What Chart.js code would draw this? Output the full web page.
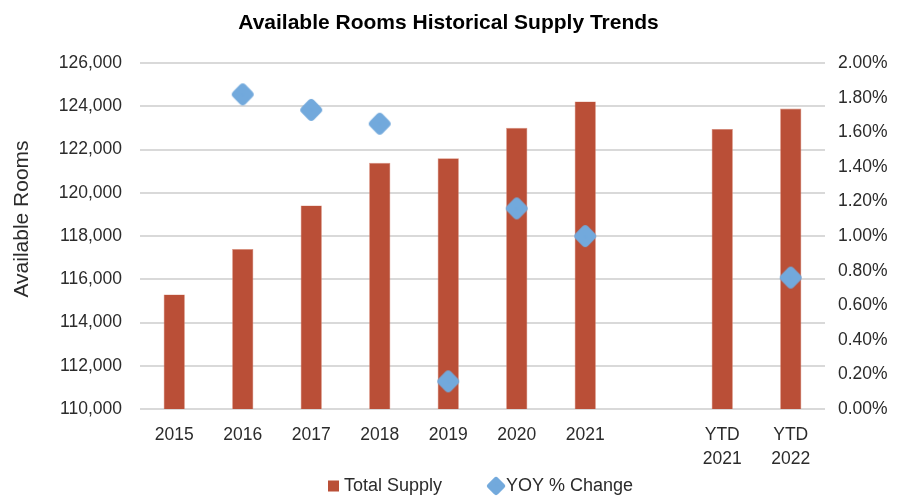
<!DOCTYPE html>
<html>
<head>
<meta charset="utf-8">
<script src="https://cdn.jsdelivr.net/npm/chart.js@4"></script>
<style>
  html, body { margin: 0; padding: 0; background: #ffffff; }
  #wrap { width: 897px; height: 496px; }
</style>
</head>
<body>
<div id="wrap"><canvas id="chart" width="897" height="496"></canvas></div>
<script>
// Categories (an empty slot separates full years from year-to-date)
const categories = ['2015', '2016', '2017', '2018', '2019', '2020', '2021', '', ['YTD', '2021'], ['YTD', '2022']];
// Total available rooms per period
const totalSupply = [115300, 117400, 119420, 121390, 121600, 123010, 124230, null, 122960, 123900];
// Year-over-year change in percent
const yoyChange = [null, 1.82, 1.73, 1.65, 0.16, 1.16, 1.00, null, null, 0.76];
// Legend entries
const seriesNames = ['Total Supply', 'YOY % Change'];
const axisTitle = 'Available Rooms';

const BAR_COLOR = '#BA4F37';
const DIAMOND_COLOR = '#72A9DC';
const TEXT_COLOR = '#2b2b2b';
const GRID_COLOR = '#D9D9D9';
const FONT = "'Liberation Sans', Arial, sans-serif";

// Rounded diamond marker drawn once onto a small canvas
function diamondImage(size, extent, stroke) {
  const c = document.createElement('canvas');
  c.width = size; c.height = size;
  const g = c.getContext('2d');
  const m = size / 2, r = extent - stroke / 2;
  g.fillStyle = DIAMOND_COLOR;
  g.strokeStyle = DIAMOND_COLOR;
  g.lineJoin = 'round';
  g.lineWidth = stroke;
  g.beginPath();
  g.moveTo(m, m - r);
  g.lineTo(m + r, m);
  g.lineTo(m, m + r);
  g.lineTo(m - r, m);
  g.closePath();
  g.fill();
  g.stroke();
  return c;
}
const bigDiamond = diamondImage(24, 10.8, 8);
const smallDiamond = diamondImage(20, 9, 6);

// Bottom legend and rotated axis title
const decorations = {
  id: 'decorations',
  afterDraw(chart) {
    const ctx = chart.ctx;
    ctx.save();
    ctx.fillStyle = TEXT_COLOR;
    ctx.textBaseline = 'middle';
    ctx.textAlign = 'left';
    ctx.font = '18px ' + FONT;
    const y = 486;
    let x = 328;
    ctx.fillStyle = BAR_COLOR;
    ctx.fillRect(x, y - 5.5, 11, 11);
    ctx.fillStyle = TEXT_COLOR;
    ctx.fillText(seriesNames[0], x + 16, y);
    x = x + 16 + ctx.measureText(seriesNames[0]).width + 45;
    ctx.drawImage(smallDiamond, x - 1, y - 10);
    ctx.fillText(seriesNames[1], x + 19, y);

    ctx.translate(22, 219);
    ctx.rotate(-Math.PI / 2);
    ctx.textAlign = 'center';
    ctx.font = '21px ' + FONT;
    ctx.fillText(axisTitle, 0, 0);
    ctx.restore();
  }
};

new Chart(document.getElementById('chart'), {
  data: {
    labels: categories,
    datasets: [
      {
        type: 'line',
        label: seriesNames[1],
        data: yoyChange,
        yAxisID: 'y1',
        showLine: false,
        pointStyle: bigDiamond,
        pointRadius: 11,
        pointHoverRadius: 11,
        backgroundColor: DIAMOND_COLOR,
        borderColor: DIAMOND_COLOR,
        order: 0
      },
      {
        type: 'bar',
        label: seriesNames[0],
        data: totalSupply,
        yAxisID: 'y',
        backgroundColor: BAR_COLOR,
        borderColor: '#D88A78',
        borderWidth: 0.6,
        categoryPercentage: 1,
        barPercentage: 0.31,
        order: 1
      }
    ]
  },
  plugins: [decorations],
  options: {
    responsive: false,
    animation: false,
    devicePixelRatio: 1,
    layout: { padding: { top: 0, left: 6, right: 6, bottom: 17 } },
    plugins: {
      title: {
        display: true,
        text: 'Available Rooms Historical Supply Trends',
        color: '#000000',
        font: { family: FONT, size: 21, weight: 'bold' },
        padding: { top: 11, bottom: 27 }
      },
      legend: { display: false },
      tooltip: { enabled: false }
    },
    scales: {
      x: {
        offset: true,
        grid: { display: false },
        border: { display: false },
        afterFit: s => { s.height = 70; },
        ticks: { color: TEXT_COLOR, font: { family: FONT, size: 17.5, lineHeight: 1.37 }, maxRotation: 0, autoSkip: false, padding: 6 }
      },
      y: {
        position: 'left',
        min: 110000,
        max: 126000,
        border: { display: false },
        afterFit: s => { s.width = 134; },
        grid: { color: GRID_COLOR, lineWidth: 2, drawTicks: false },
        ticks: {
          stepSize: 2000,
          color: TEXT_COLOR,
          padding: 18,
          font: { family: FONT, size: 17.5 },
          callback: v => v.toLocaleString('en-US')
        }
      },
      y1: {
        position: 'right',
        min: 0,
        max: 2,
        border: { display: false },
        afterFit: s => { s.width = 66; },
        grid: { drawOnChartArea: false, drawTicks: false },
        ticks: {
          stepSize: 0.2,
          color: TEXT_COLOR,
          padding: 13,
          font: { family: FONT, size: 17.5 },
          callback: v => v.toFixed(2) + '%'
        }
      }
    }
  }
});
</script>
</body>
</html>
